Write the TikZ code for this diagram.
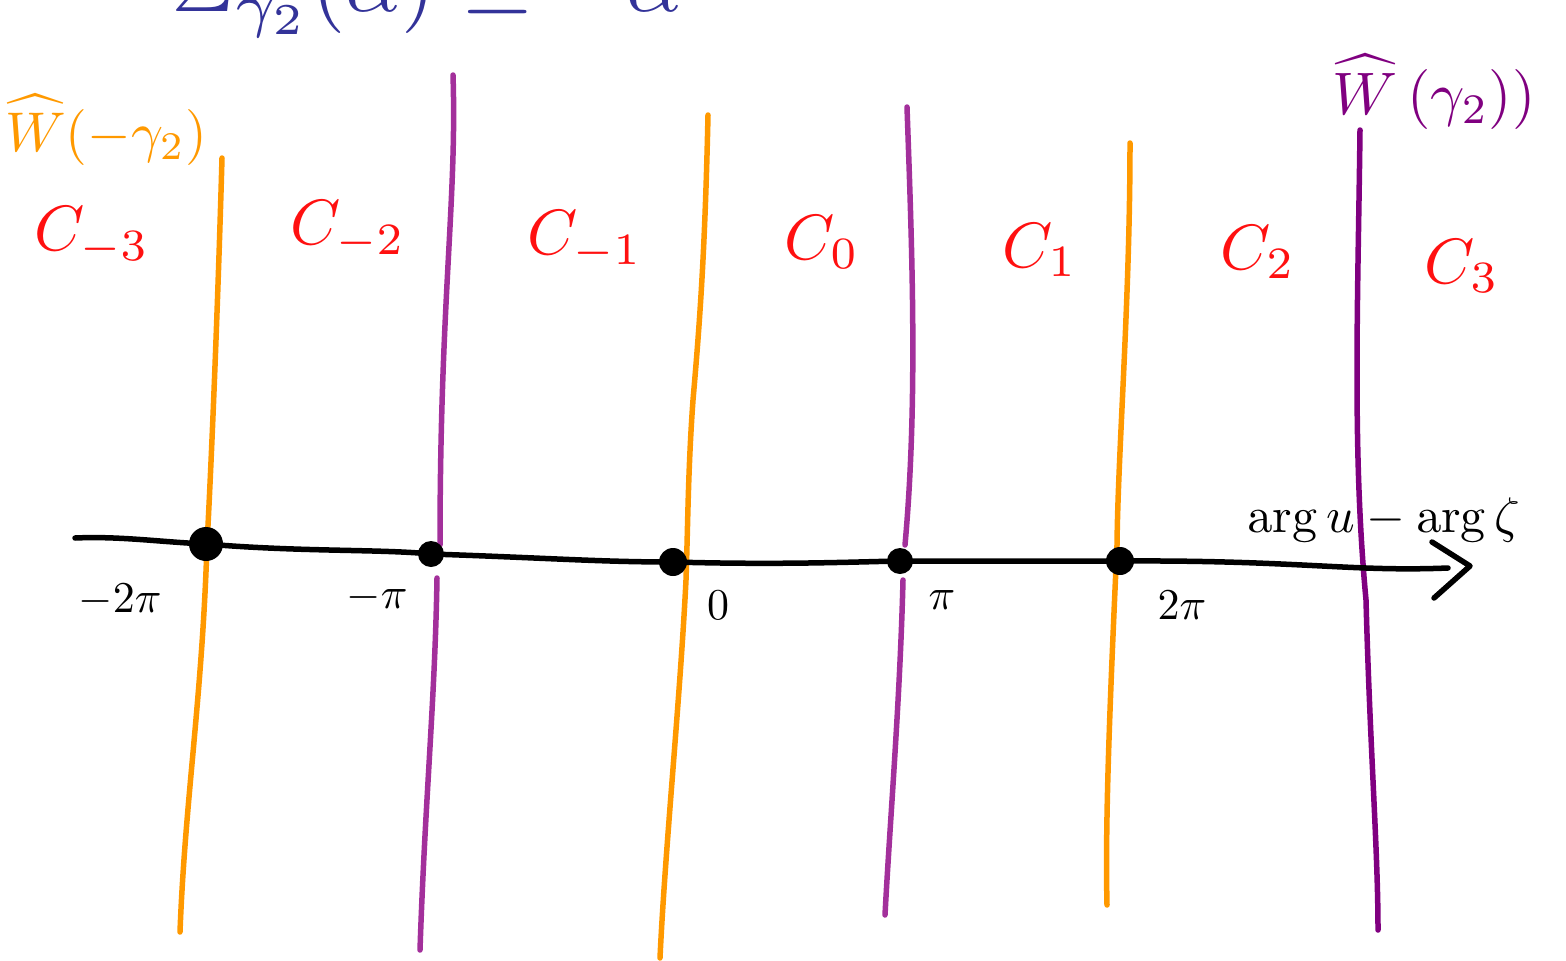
\documentclass[tikz,border=0pt]{standalone}
\usepackage{amsmath}
\definecolor{ora}{HTML}{FF9900}
\definecolor{pur}{HTML}{A3309B}
\definecolor{dpur}{HTML}{800080}
\definecolor{blu}{HTML}{333399}
\definecolor{red1}{HTML}{FF1010}
\begin{document}
\begin{tikzpicture}[x=1pt,y=-1pt,
  curve/.style={line width=5.5pt,line cap=round,line join=round},
  clabel/.style={text=red1,scale=6.4,inner sep=0pt},
  tick/.style={text=black,scale=4.4,inner sep=0pt},
  toptext/.style={text=blu,scale=8.8,anchor=base west,inner sep=0pt},
  dot/.style={circle,fill=black,inner sep=0pt,minimum size=#1}]
\useasboundingbox (0,0) rectangle (1566,961);
\clip (0,0) rectangle (1566,961);
% top blue text (cut off)
\node[toptext] (top) at (170,12) {$\Sigma_{\gamma_2}(\alpha)$};
\node[toptext] (eq) at (462,25) {$=$};
\node[toptext] (al) at (625,12) {$\alpha$};
% vertical lines
\draw[curve,ora] (222,158) .. controls (218,300) and (212,450) .. (207,545) .. controls (202,700) and (185,800) .. (180,932);
\draw[curve,pur] (453,75) .. controls (457,200) and (440,300) .. (440,545);
\draw[curve,pur] (437,578) .. controls (435,700) and (425,800) .. (420,950);
\draw[curve,ora] (708,115) .. controls (705,250) and (700,320) .. (693,400) .. controls (688,470) and (688,520) .. (686,580) .. controls (680,700) and (665,850) .. (660,958);
\draw[curve,pur] (907,107) .. controls (912,250) and (918,400) .. (905,545);
\draw[curve,pur] (903,580) .. controls (900,700) and (890,820) .. (885,915);
\draw[curve,ora] (1130,143) .. controls (1130,300) and (1118,450) .. (1117,545) .. controls (1110,700) and (1105,820) .. (1107,905);
\draw[curve,dpur] (1360,130) .. controls (1358,300) and (1352,450) .. (1366,600) .. controls (1370,750) and (1378,850) .. (1378,930);
% axis
\coordinate (a0) at (75,538);
\coordinate (a1) at (1448,568);
\node[dot=34pt] (p1) at (206,544) {};
\node[dot=26pt] (p2) at (431,554) {};
\node[dot=28pt] (p3) at (673,562) {};
\node[dot=26pt] (p4) at (900,561) {};
\node[dot=28pt] (p5) at (1120,561) {};
\draw[curve,black] (a0) .. controls (120,536) and (160,542) .. (p1.center) .. controls (300,552) and (380,549) .. (p2.center) .. controls (550,558) and (600,562) .. (p3.center) .. controls (780,565) and (850,562) .. (p4.center) -- (p5.center) .. controls (1300,560) and (1350,572) .. (a1);
\coordinate (h1) at (1432,542);
\coordinate (h2) at (1434,598);
\coordinate (h0) at (1470,566);
\draw[curve,black] (h1) -- (h0) -- (h2);
% axis labels
\node[tick] (l1) at (120,600) {$-2\pi$};
\node[tick] (l2) at (377,597) {$-\pi$};
\node[tick] (l3) at (718,605) {$0$};
\node[tick] (l4) at (942,600) {$\pi$};
\node[tick] (l5) at (1182,605) {$2\pi$};
\node[tick,scale=5/4.4] (ax) at (1384,520) {$\arg u - \arg \zeta$};
% region labels
\node[clabel] (c1) at (92,236) {$C_{-3}$};
\node[clabel] (c2) at (348,230) {$C_{-2}$};
\node[clabel] (c3) at (585,240) {$C_{-1}$};
\node[clabel] (c4) at (822,242) {$C_{0}$};
\node[clabel] (c5) at (1040,250) {$C_{1}$};
\node[clabel] (c6) at (1258,252) {$C_{2}$};
\node[clabel] (c7) at (1462,266) {$C_{3}$};
% line labels
\node[text=ora,scale=5.6,inner sep=0pt] (wl) at (106,130) {$\widehat{W}(-\gamma_2)$};
\node[text=dpur,scale=6,inner sep=0pt] (wr) at (1434,92) {$\widehat{W}\,(\gamma_2))$};
\end{tikzpicture}
\end{document}
